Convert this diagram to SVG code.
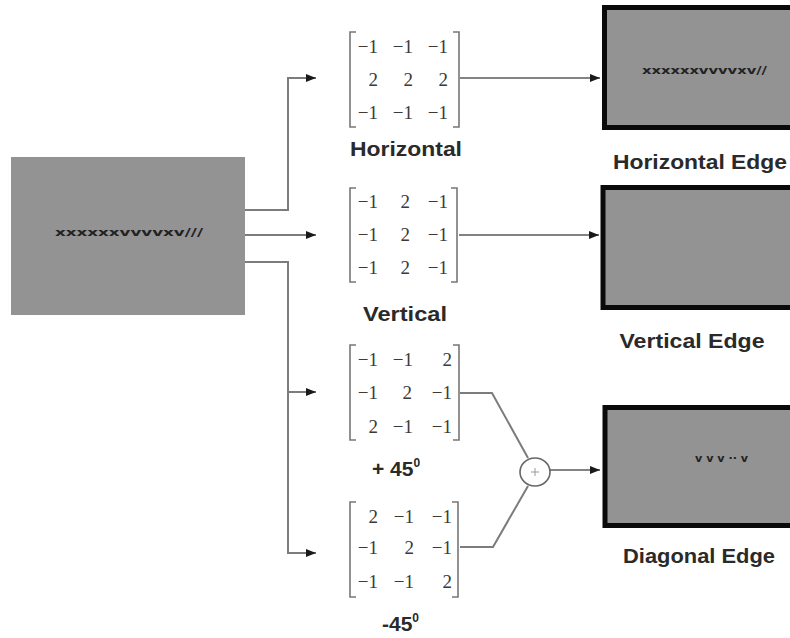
<svg xmlns="http://www.w3.org/2000/svg" width="790" height="638" viewBox="0 0 790 638">
<defs>
<marker id="ah" viewBox="0 0 10 8" refX="10" refY="4" markerWidth="10" markerHeight="8" markerUnits="userSpaceOnUse" orient="auto">
<path d="M0,0 L10,4 L0,8 Z" fill="#1a1a1a"/>
</marker>
<style>
.conn{fill:none;stroke:#7c7c7c;stroke-width:2}
.thin{fill:none;stroke:#5a5a5a;stroke-width:1.5}
.br{fill:none;stroke:#777;stroke-width:1.6}
.num{font-family:"Liberation Serif",serif;font-size:19px;fill:#3a3a3a;text-anchor:end}
.lbl{font-family:"Liberation Sans",Arial,sans-serif;font-weight:bold;font-size:21px;fill:#2a2a2a;text-anchor:middle}
.img{fill:#939393}
.out{fill:#939393;stroke:#0a0a0a;stroke-width:5}
.tiny{font-family:"DejaVu Sans",sans-serif;font-weight:bold;font-size:10px;fill:#222}
</style>
</defs>
<rect width="790" height="638" fill="#ffffff"/>

<g id="input">
<rect class="img" x="11" y="157" width="234" height="158"/>
<text class="tiny" x="55" y="236" textLength="148" lengthAdjust="spacingAndGlyphs">xxxxxxvvvvxv///</text>
</g>

<g id="connectors">
<path class="conn" d="M245,210 H288 V78 H316" marker-end="url(#ah)"/>
<path class="conn" d="M245,235 H316" marker-end="url(#ah)"/>
<path class="conn" d="M245,262 H288 V553 H316" marker-end="url(#ah)"/>
<path class="conn" d="M288,392 H316" marker-end="url(#ah)"/>
<path class="thin" d="M460,78 H600" marker-end="url(#ah)"/>
<path class="thin" d="M459,235 H599" marker-end="url(#ah)"/>
<path class="conn" d="M460,393 H492 L528,458"/>
<path class="conn" d="M460,547 H493 L528,486"/>
<path class="thin" d="M550,470 H600" marker-end="url(#ah)"/>
</g>

<g id="sum">
<ellipse cx="535" cy="472" rx="15" ry="14" fill="#fff" stroke="#666" stroke-width="1.6"/>
<path d="M531,472 H539 M535,468 V476" stroke="#999" stroke-width="1"/>
</g>

<g id="m-horizontal">
<path class="br" d="M356,32 H350 V127 H356 M453,32 H459 V127 H453"/>
<text class="num" y="53"><tspan x="378">−1</tspan><tspan x="413">−1</tspan><tspan x="448">−1</tspan></text>
<text class="num" y="86"><tspan x="378">2</tspan><tspan x="413">2</tspan><tspan x="448">2</tspan></text>
<text class="num" y="119"><tspan x="378">−1</tspan><tspan x="413">−1</tspan><tspan x="448">−1</tspan></text>
<text class="lbl" x="406" y="156" textLength="112" lengthAdjust="spacingAndGlyphs">Horizontal</text>
</g>

<g id="m-vertical">
<path class="br" d="M356,188 H350 V282 H356 M451,188 H457 V282 H451"/>
<text class="num" y="208"><tspan x="378">−1</tspan><tspan x="410">2</tspan><tspan x="448">−1</tspan></text>
<text class="num" y="241"><tspan x="378">−1</tspan><tspan x="410">2</tspan><tspan x="448">−1</tspan></text>
<text class="num" y="274"><tspan x="378">−1</tspan><tspan x="410">2</tspan><tspan x="448">−1</tspan></text>
<text class="lbl" x="405" y="321" textLength="84" lengthAdjust="spacingAndGlyphs">Vertical</text>
</g>

<g id="m-plus45">
<path class="br" d="M356,345 H350 V440 H356 M453,345 H459 V440 H453"/>
<text class="num" y="366"><tspan x="378">−1</tspan><tspan x="413">−1</tspan><tspan x="452">2</tspan></text>
<text class="num" y="399"><tspan x="378">−1</tspan><tspan x="412">2</tspan><tspan x="452">−1</tspan></text>
<text class="num" y="433"><tspan x="378">2</tspan><tspan x="413">−1</tspan><tspan x="452">−1</tspan></text>
<text class="lbl" x="372" y="476" style="text-anchor:start">+ 45<tspan font-size="12" dy="-9">0</tspan></text>
</g>

<g id="m-minus45">
<path class="br" d="M356,502 H350 V597 H356 M452,502 H458 V597 H452"/>
<text class="num" y="523"><tspan x="378">2</tspan><tspan x="414">−1</tspan><tspan x="452">−1</tspan></text>
<text class="num" y="554"><tspan x="378">−1</tspan><tspan x="414">2</tspan><tspan x="452">−1</tspan></text>
<text class="num" y="588"><tspan x="378">−1</tspan><tspan x="414">−1</tspan><tspan x="452">2</tspan></text>
<text class="lbl" x="382" y="631" style="text-anchor:start">-45<tspan font-size="12" dy="-9">0</tspan></text>
</g>

<g id="out-horizontal">
<rect class="out" x="604.5" y="7.5" width="200" height="120"/>
<text class="tiny" x="642" y="74" textLength="125" lengthAdjust="spacingAndGlyphs">xxxxxxvvvvxv//</text>
<text class="lbl" x="700" y="169" textLength="174" lengthAdjust="spacingAndGlyphs">Horizontal Edge</text>
</g>

<g id="out-vertical">
<rect class="out" x="603" y="187.5" width="200" height="120"/>
<text class="lbl" x="692" y="348" textLength="145" lengthAdjust="spacingAndGlyphs">Vertical Edge</text>
</g>

<g id="out-diagonal">
<rect class="out" x="605" y="407.5" width="200" height="118"/>
<text class="tiny" x="695" y="462" textLength="53" lengthAdjust="spacingAndGlyphs">v v v ·· v</text>
<text class="lbl" x="699" y="563" textLength="152" lengthAdjust="spacingAndGlyphs">Diagonal Edge</text>
</g>
</svg>
